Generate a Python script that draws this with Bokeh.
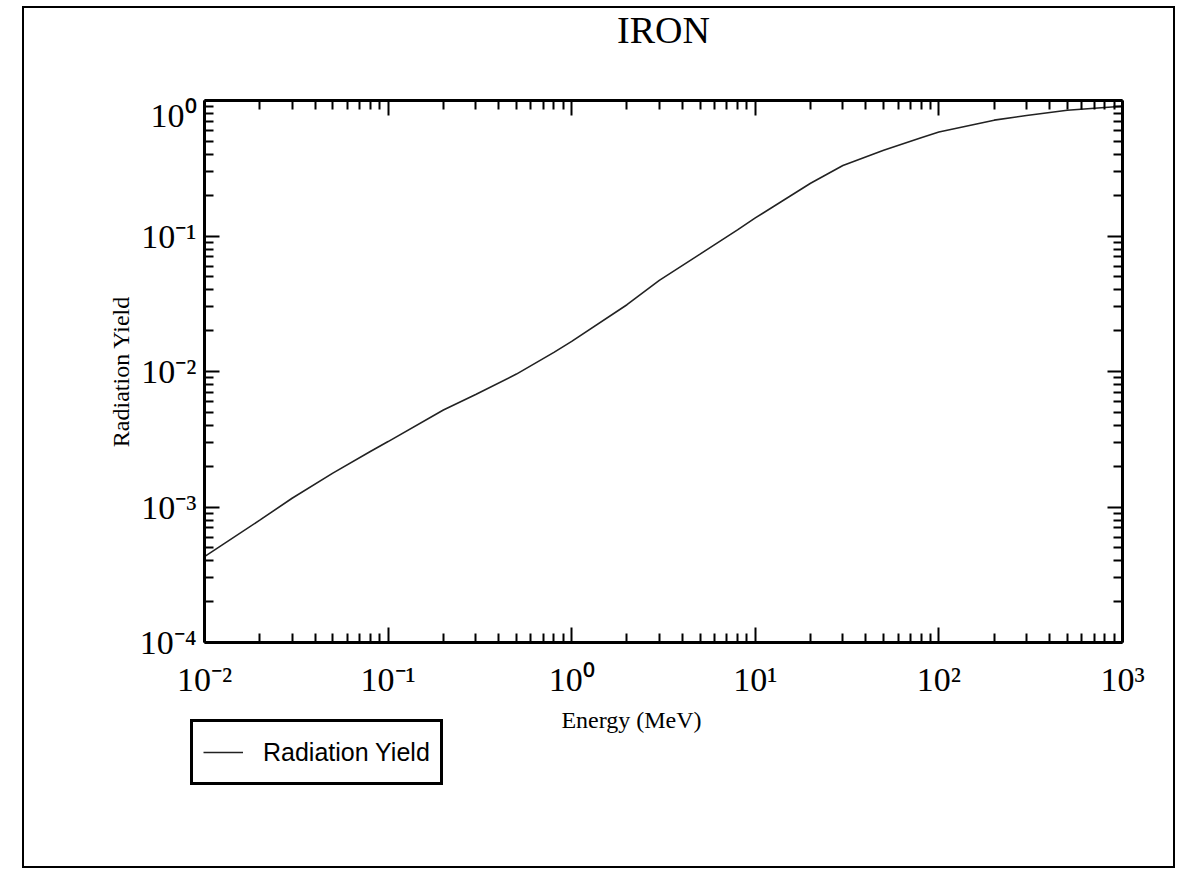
from bokeh.plotting import figure
from bokeh.layouts import column
from bokeh.models import LogAxis, Range1d, Legend, LegendItem, FixedTicker, Label
from bokeh.embed import file_html
from bokeh.resources import INLINE

# Data (Energy in MeV, radiation yield)
energy = [0.01, 0.02, 0.03, 0.05, 0.08, 0.1, 0.2, 0.3, 0.5, 0.8, 1, 2, 3, 5, 8,
          10, 20, 30, 50, 80, 100, 200, 300, 500, 800, 1000]
radiation_yield = [4.3e-4, 8.0e-4, 1.16e-3, 1.78e-3, 2.57e-3, 3.04e-3, 5.20e-3,
                   6.77e-3, 9.57e-3, 1.384e-2, 1.667e-2, 3.11e-2, 4.70e-2,
                   7.34e-2, 0.111, 0.136, 0.245, 0.331, 0.430, 0.531, 0.585,
                   0.716, 0.774, 0.847, 0.887, 0.906]

x_ticks = [0.01, 0.1, 1, 10, 100, 1000]
x_tick_labels = ["10\u207b\u00b2", "10\u207b\u00b9", "10\u2070", "10\u00b9", "10\u00b2", "10\u00b3"]
y_ticks = [0.0001, 0.001, 0.01, 0.1, 1]
y_tick_labels = ["10\u207b\u2074", "10\u207b\u00b3", "10\u207b\u00b2", "10\u207b\u00b9", "10\u2070"]

title_text = "IRON"
x_label = "Energy (MeV)"
y_label = "Radiation Yield"
series_name = "Radiation Yield"

# layout constants (pixels)
LEFT, FRAME_W, RIGHT = 180, 918, 51
TOTAL_W = LEFT + FRAME_W + RIGHT
TOP_H, FRAME_H, BOTTOM_H = 88, 542, 62
FOOT_H = 162
LINE_COLOR = "#222222"


def minor_list(ticks):
    out = []
    for t in ticks[:-1]:
        for m in range(2, 10):
            out.append(t * m)
    return out


def blank(fig):
    fig.outline_line_color = None
    fig.background_fill_color = "white"
    fig.border_fill_color = "white"
    fig.xgrid.grid_line_color = None
    fig.ygrid.grid_line_color = None


# --- title strip ---
head = figure(x_range=Range1d(0, 1), y_range=Range1d(0, TOP_H),
              frame_width=FRAME_W, frame_height=TOP_H,
              min_border_left=LEFT, min_border_right=RIGHT,
              min_border_top=0, min_border_bottom=0,
              x_axis_location=None, y_axis_location=None,
              output_backend="svg", toolbar_location=None)
blank(head)
head.add_layout(Label(x=0.5, y=67, text=title_text, text_align="center",
                      text_baseline="alphabetic", text_font="Liberation Serif",
                      text_font_size="38px", text_color="black"))

# --- main plot ---
p = figure(
    x_axis_type="log", y_axis_type="log",
    x_range=Range1d(0.01, 1000), y_range=Range1d(0.0001, 1),
    frame_width=FRAME_W, frame_height=FRAME_H,
    min_border_left=LEFT, min_border_right=RIGHT,
    min_border_top=4, min_border_bottom=BOTTOM_H,
    output_backend="svg", toolbar_location=None,
)
blank(p)


def style_axis(ax, ticks, labels):
    ax.ticker = FixedTicker(ticks=ticks, minor_ticks=minor_list(ticks))
    ax.axis_line_width = 3
    ax.axis_line_color = "black"
    ax.major_tick_in = 15
    ax.major_tick_out = 0
    ax.minor_tick_in = 9
    ax.minor_tick_out = 0
    ax.major_tick_line_width = 2
    ax.minor_tick_line_width = 2
    ax.major_tick_line_color = "black"
    ax.minor_tick_line_color = "black"
    ax.major_label_text_font = "Liberation Serif"
    ax.major_label_text_color = "black"
    ax.major_label_text_font_size = "34px"
    ax.major_label_overrides = dict(zip(ticks, labels))


xa = p.xaxis[0]
style_axis(xa, x_ticks, x_tick_labels)
xa.major_label_standoff = 18

ya = p.yaxis[0]
style_axis(ya, y_ticks, y_tick_labels)
ya.major_label_standoff = 8
ya.axis_label = y_label
ya.axis_label_text_font = "Liberation Serif"
ya.axis_label_text_font_size = "24px"
ya.axis_label_text_font_style = "normal"
ya.axis_label_text_color = "black"
ya.axis_label_standoff = 3

top = LogAxis()
style_axis(top, x_ticks, ["" for _ in x_ticks])
top.major_label_standoff = 0
p.add_layout(top, "above")

right = LogAxis()
style_axis(right, y_ticks, ["" for _ in y_ticks])
right.major_label_standoff = 0
p.add_layout(right, "right")

p.line(energy, radiation_yield, line_width=1.6, line_color=LINE_COLOR)

# --- foot strip: x-axis title and legend ---
foot = figure(x_range=Range1d(0, TOTAL_W), y_range=Range1d(0, FOOT_H),
              frame_width=TOTAL_W, frame_height=FOOT_H,
              min_border_left=0, min_border_right=0,
              min_border_top=0, min_border_bottom=0,
              x_axis_location=None, y_axis_location=None,
              output_backend="svg", toolbar_location=None)
blank(foot)
foot.add_layout(Label(x=427, y=147, text=x_label, text_align="center",
                      text_baseline="alphabetic", text_font="Liberation Serif",
                      text_font_size="24px", text_color="black"))
# legend sample line (kept outside the visible range)
sample = foot.line(x=[-50, -40], y=[-50, -50], line_width=1.5, line_color=LINE_COLOR)

legend = Legend(items=[LegendItem(label=series_name, renderers=[sample])],
                location=(166, 81))
legend.border_line_color = "black"
legend.border_line_alpha = 1
legend.border_line_width = 3
legend.background_fill_color = "white"
legend.background_fill_alpha = 1
legend.label_text_font = "Liberation Sans"
legend.label_text_font_size = "25px"
legend.label_text_color = "black"
legend.glyph_width = 40
legend.glyph_height = 40
legend.label_standoff = 20
legend.padding = 10
legend.margin = 0
foot.add_layout(legend, "center")

layout = column(head, p, foot, spacing=0,
                styles={"border": "2px solid black"},
                margin=(6, 0, 0, 22))

open("out.html", "w").write(file_html(layout, INLINE))
